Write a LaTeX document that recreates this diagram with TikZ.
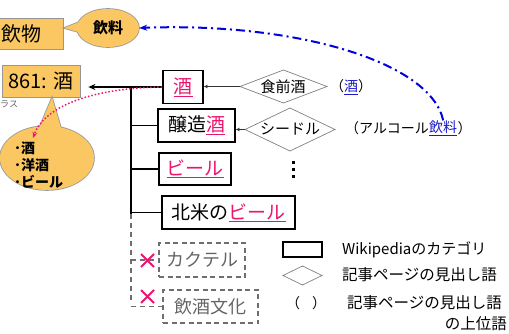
\documentclass[tikz,border=0pt]{standalone}
\usepackage{fontspec}
\setmainfont{Noto Sans CJK JP}
\usetikzlibrary{arrows.meta,shapes.geometric}
\definecolor{orng}{RGB}{250,199,99}
\definecolor{pnk}{RGB}{235,20,110}
\definecolor{lnk}{RGB}{25,25,200}
\definecolor{dashblue}{RGB}{0,0,225}
\definecolor{cgray}{RGB}{150,150,150}
\definecolor{dgray}{RGB}{110,110,110}
\definecolor{tgray}{RGB}{100,100,100}
\newcommand{\fsz}[1]{\fontsize{#1}{#1}\selectfont}
\newcommand{\pk}[1]{\textcolor{pnk}{\underline{#1}}}
\newcommand{\bl}[1]{\textcolor{lnk}{\underline{#1}}}
\begin{document}
\begin{tikzpicture}[x=1pt,y=-1pt,
  catbox/.style={draw=black, line width=1.8pt, fill=white, inner sep=0pt, font=\fsz{19}},
  gbox/.style={draw=dgray, dash pattern=on 5pt off 3.5pt, line width=1.6pt, inner sep=0pt, text=tgray, font=\fsz{18}},
  diaedge/.style={draw=gray, line width=0.7pt},
  obox/.style={draw=cgray, line width=0.8pt, fill=orng, inner sep=0pt, font=\fsz{20}},
  tree/.style={line width=1.5pt, black},
  gtree/.style={line width=1.5pt, dgray, dash pattern=on 5pt off 4pt},
  conn/.style={line width=0.7pt, black!80, -{Stealth[length=4pt,width=3.5pt]}},
  lbl/.style={inner sep=0pt, anchor=west},
  cross/.style={pnk, line width=1.8pt}
]
\useasboundingbox (0,0) rectangle (509,334);

% ---------- callout 1 (飲料) ----------
\node[obox, minimum width=83, minimum height=31] (inbutsu) at (21.5,33.5) {飲物};
\draw[cgray, line width=1.6pt] (108,28) ellipse [x radius=31, y radius=19];
\draw[cgray, line width=1.6pt, line join=miter] (82,21) -- (64,28) -- (82,33);
\fill[orng] (108,28) ellipse [x radius=31, y radius=19];
\fill[orng] (82,21) -- (64,28) -- (82,33) -- cycle;
\node[ellipse, minimum width=62, minimum height=38, inner sep=0pt, font=\fsz{15}\bfseries] (inryo) at (108,28) {飲料};

% ---------- 861 box and callout 2 ----------
\node[obox, minimum width=78, minimum height=32] (k861) at (41,81) {861: 酒};
\node[lbl, text=tgray, font=\fsz{9}] (rasu) at (0,104) {ラス};
\draw[cgray, line width=1.6pt] (47,158) ellipse [x radius=47, y radius=32];
\draw[cgray, line width=1.6pt, line join=miter] (38,131) -- (52,97.5) -- (61,128);
\fill[orng] (47,158) ellipse [x radius=47, y radius=32];
\fill[orng] (38,131) -- (52,97.5) -- (61,128) -- cycle;
\node[ellipse, minimum width=94, minimum height=64, inner sep=0pt] (list) at (47,158) {};
\node[lbl, align=left, font=\fontsize{14}{17}\selectfont\bfseries] (listtxt) at (14,165) {･酒\\･洋酒\\･ビール};

% ---------- category boxes ----------
\node[catbox, minimum width=40, minimum height=33] (sake) at (183,87) {\pk{酒}};
\node[catbox, minimum width=77, minimum height=33] (jozo) at (196.5,125.5) {醸造\pk{酒}};
\node[catbox, minimum width=72, minimum height=32] (beer) at (195,169) {\pk{ビール}};
\node[catbox, minimum width=133, minimum height=33] (nabeer) at (228.5,212.5) {北米の\pk{ビール}};
\node[gbox, minimum width=86, minimum height=34] (cocktail) at (202,260) {カクテル};
\node[gbox, minimum width=95, minimum height=33] (inshu) at (210.5,306.5) {飲酒文化};

% tree
\coordinate (tr) at (131,86);
\draw[tree, -{Stealth[length=7pt,width=6pt]}, shorten >=8pt] (sake.west) -- (k861.east |- sake.west);
\draw[tree] (tr) -- (131,214);
\draw[tree] (jozo.west -| tr) -- (jozo.west);
\draw[tree] (beer.west -| tr) -- (beer.west);
\draw[tree] (nabeer.west -| tr) -- (nabeer.west);
\draw[gtree] (131,214) -- (131,300);
\draw[gtree] (cocktail.west -| tr) -- (cocktail.west);
\draw[gtree] (inshu.west -| tr) -- (inshu.west);
\draw[cross] (141,254) -- (154,267) (141,267) -- (154,254);
\draw[cross] (141,290) -- (154,303) (141,303) -- (154,290);

% vertical dots
\fill (291.5,161.5) rectangle (294.5,164.5);
\fill (291.5,168.5) rectangle (294.5,171.5);
\fill (291.5,175.5) rectangle (294.5,178.5);

% ---------- diamonds ----------
\draw[diaedge] (240,86.5) -- (283.5,70) -- (327,86.5) -- (283.5,103) -- cycle;
\coordinate (shokuzenL) at (240,86.5);
\node[inner sep=0pt, font=\fsz{15}] (shokuzen) at (283,86.5) {食前酒};
\draw[diaedge] (245,129.5) -- (290,108) -- (335,129.5) -- (290,151) -- cycle;
\coordinate (cidreL) at (245,129.5);
\node[inner sep=0pt, font=\fsz{15}] (cidre) at (290,129.5) {シードル};
\draw[conn] (shokuzenL) -- (sake.east |- shokuzenL);
\draw[conn] (cidreL) -- (jozo.east |- cidreL);
\node[lbl, font=\fsz{14}] (sakeup) at (330,87) {（\bl{酒}）};
\node[lbl, font=\fsz{14}] (alc) at (345,128) {（アルコール};
\node[lbl, font=\fsz{14}] (inryo2) at (alc.east) {\bl{飲料}};
\node[lbl, font=\fsz{14}] (rp) at (inryo2.east) {）};

% ---------- relation arrows ----------
\draw[dashblue, line width=2pt, dash pattern=on 9pt off 4pt on 2pt off 4pt,
  -{Stealth[length=8pt,width=6pt]}]
  (inryo2.north) .. controls (430,60) and (290,22) .. (inryo.east);
\draw[pnk, line width=1.5pt, dash pattern=on 1.5pt off 2pt,
  -{Stealth[length=6pt,width=5pt]}]
  (sake.west) .. controls (95,88) and (45,105) .. (33,138);

% ---------- legend ----------
\node[draw=black, line width=1.8pt, minimum width=39, minimum height=15, inner sep=0pt] (lgcat) at (302.5,249.5) {};
\node[lbl, font=\fsz{15}] (lgcattxt) at (342,250) {Wikipediaのカテゴリ};
\draw[diaedge] (283,275.5) -- (302.5,266) -- (322,275.5) -- (302.5,285) -- cycle;
\coordinate (lgdia) at (302.5,275.5);
\node[lbl, font=\fsz{15.5}] (lgdiatxt) at (342,275) {記事ページの見出し語};
\node[font=\fsz{14}, inner sep=0pt] (lgpar) at (306,303) {（\hspace{12pt}）};
\node[lbl, font=\fsz{15.5}] (lgpartxt) at (347,303) {記事ページの見出し語};
\node[inner sep=0pt, anchor=east, font=\fsz{15.5}] (lgpartxt2) at (507,324) {の上位語};
\end{tikzpicture}
\end{document}
